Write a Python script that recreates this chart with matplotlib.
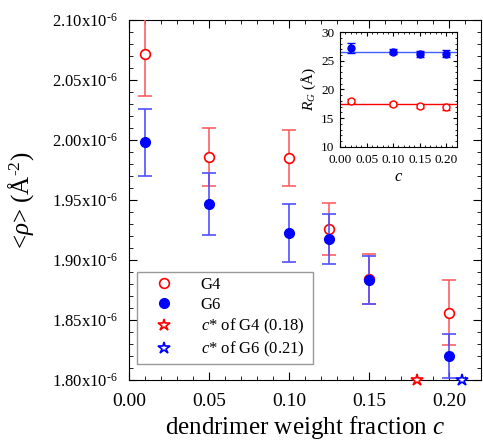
import numpy as np
import matplotlib.pyplot as plt
from matplotlib.ticker import MultipleLocator, FuncFormatter
from matplotlib.lines import Line2D

plt.rcParams['font.family'] = ['Liberation Serif', 'DejaVu Serif']
plt.rcParams['mathtext.fontset'] = 'custom'
plt.rcParams['mathtext.rm'] = 'Liberation Serif'
plt.rcParams['mathtext.it'] = 'Liberation Serif:italic'

# Densidad media vs fraccion de dendrimero
c_g4 = [0.01, 0.05, 0.10, 0.125, 0.15, 0.20]
rho_g4 = [2.0715, 1.986, 1.985, 1.926, 1.884, 1.856]
err_g4 = [0.035, 0.024, 0.023, 0.0215, 0.021, 0.027]

c_g6 = [0.01, 0.05, 0.10, 0.125, 0.15, 0.20]
rho_g6 = [1.998, 1.9466, 1.9223, 1.9175, 1.883, 1.820]
err_g6 = [0.028, 0.026, 0.024, 0.021, 0.020, 0.018]

cstar = [0.18, 0.208]
cstar_y = [1.80, 1.80]

# Inset: radio de giro
c_rg = [0.02, 0.10, 0.15, 0.20]
rg_g4 = [18.0, 17.5, 17.1, 17.0]
rg_g4_err = [0.4, 0.3, 0.3, 0.5]
rg_g6 = [27.2, 26.6, 26.2, 26.2]
rg_g6_err = [0.9, 0.5, 0.5, 0.6]
rg_fit = [17.5, 26.6]

red = '#ff0000'
blue = '#0000ff'
hy = '\u2010'

fig = plt.figure(figsize=(4.83, 4.45), dpi=100)
ax = fig.add_axes([0.267, 0.146, 0.729, 0.809])

ax.errorbar(c_g4, rho_g4, yerr=err_g4, fmt='o', mfc='white', mec=red, ms=7,
            mew=1.2, ecolor='#ff6060', elinewidth=1.2, capsize=5, capthick=1.2,
            zorder=3)
ax.errorbar(c_g6, rho_g6, yerr=err_g6, fmt='o', mfc=blue, mec=blue, ms=7,
            ecolor='#5050ff', elinewidth=1.2, capsize=5, capthick=1.2,
            zorder=4)
ax.plot(cstar[0], cstar_y[0], '*', mfc='white', mec=red, ms=9, mew=1.2,
        clip_on=False, zorder=5)
ax.plot(cstar[1], cstar_y[1], '*', mfc='white', mec=blue, ms=9, mew=1.2,
        clip_on=False, zorder=5)

ax.set_xlim(0, 0.22)
ax.set_ylim(1.80, 2.10)
ax.xaxis.set_major_locator(MultipleLocator(0.05))
ax.xaxis.set_minor_locator(MultipleLocator(0.01))
ax.yaxis.set_major_locator(MultipleLocator(0.05))
ax.yaxis.set_minor_locator(MultipleLocator(0.01))
ax.xaxis.set_major_formatter(FuncFormatter(lambda v, p: f'{v:.2f}'))
ax.yaxis.set_major_formatter(FuncFormatter(lambda v, p: f'{v:.2f}x10$^{{{hy}6}}$'))
ax.tick_params(which='both', direction='in', top=True, right=True)
ax.tick_params(axis='y', labelsize=12, pad=8)
ax.tick_params(axis='x', labelsize=14, pad=9)
ax.tick_params(which='major', length=6)
ax.tick_params(which='minor', length=3)
ax.set_xlabel('dendrimer weight fraction $c$', fontsize=18, labelpad=3)
ax.set_ylabel(f'<$\\rho$> (Å$^{{{hy}2}}$)', fontsize=18, labelpad=12)

handles = [
    Line2D([], [], ls='none', marker='o', mfc='white', mec=red, ms=7, mew=1.2),
    Line2D([], [], ls='none', marker='o', mfc=blue, mec=blue, ms=7),
    Line2D([], [], ls='none', marker='*', mfc='white', mec=red, ms=9, mew=1.2),
    Line2D([], [], ls='none', marker='*', mfc='white', mec=blue, ms=9, mew=1.2),
]
labels = ['G4', 'G6', '$c$* of G4 (0.18)', '$c$* of G6 (0.21)']
leg = ax.legend(handles, labels, loc='lower left',
                bbox_to_anchor=(0.0, 0.02, 0.545, 0.245), mode='expand',
                fontsize=12, fancybox=False, edgecolor='#808080',
                handlelength=2.6, handletextpad=0.9, borderpad=0.3,
                labelspacing=0.25)
leg.get_frame().set_linewidth(1.0)

# Inset
axi = fig.add_axes([0.704, 0.670, 0.242, 0.258])
axi.errorbar(c_rg, rg_g6, yerr=rg_g6_err, fmt='o', mfc=blue, mec=blue, ms=5,
             ecolor=blue, capsize=3)
axi.errorbar(c_rg, rg_g4, yerr=rg_g4_err, fmt='o', mfc='white', mec=red, ms=5,
             ecolor=red, capsize=3)
axi.axhline(rg_fit[0], color=red, lw=1.0, zorder=1)
axi.axhline(rg_fit[1], color='#4060ff', lw=1.0, zorder=1)
axi.set_xlim(0, 0.22)
axi.set_ylim(10, 30)
axi.xaxis.set_major_locator(MultipleLocator(0.05))
axi.xaxis.set_minor_locator(MultipleLocator(0.01))
axi.yaxis.set_major_locator(MultipleLocator(5))
axi.yaxis.set_minor_locator(MultipleLocator(1))
axi.xaxis.set_major_formatter(FuncFormatter(lambda v, p: f'{v:.2f}'))
axi.tick_params(which='both', direction='in', top=True, right=True, labelsize=9.5)
axi.tick_params(axis='x', pad=5)
axi.tick_params(axis='y', pad=4)
axi.tick_params(which='major', length=3)
axi.tick_params(which='minor', length=1.5)
axi.set_xlabel('$c$', fontsize=12, labelpad=2)
axi.set_ylabel('$R_G$ (Å)', fontsize=11, labelpad=2)

fig.savefig('out.png', dpi=100)
